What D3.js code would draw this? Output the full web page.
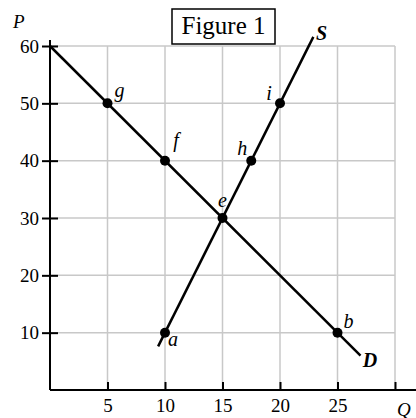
<!DOCTYPE html>
<html>
<head>
<meta charset="utf-8">
<script src="https://cdn.jsdelivr.net/npm/d3@7"></script>
<style>
  body { margin: 0; background: #fff; }
  text { font-family: "Liberation Serif", "Times New Roman", serif; }
</style>
</head>
<body>
<svg id="chart" width="416" height="418"></svg>
<script>
// supply and demand, Figure 1
const xTicks = [5, 10, 15, 20, 25, 30]
const yTicks = [10, 20, 30, 40, 50, 60]
const demandLine = [[0, 60], [27, 6]]
const supplyLine = [[9.4, 7.6], [22.9, 61.6]]
const pointNames = ["g", "f", "e", "i", "h", "a", "b"]
const pointQ = [5, 10, 15, 20, 17.5, 10, 25]
const pointP = [50, 40, 30, 50, 40, 10, 10]
// label offset (px) for each point letter
const labelDx = [12, 11, 0, -11, -9, 8, 11]
const labelDy = [-6, -14, -11, -3, -6, 13, -5]

var svg = d3.select("#chart")
var x = d3.scaleLinear().domain([0, 30]).range([50, 395])
var y = d3.scaleLinear().domain([0, 60]).range([390, 46])

// grid
svg.append("g").selectAll("line")
    .data(xTicks)
    .enter().append("line")
    .attr("x1", d => x(d)).attr("x2", d => x(d))
    .attr("y1", y(0)).attr("y2", y(60))
    .attr("stroke", "#c8c8c8").attr("stroke-width", 1.5)
svg.append("g").selectAll("line")
    .data(yTicks)
    .enter().append("line")
    .attr("x1", x(0)).attr("x2", x(30))
    .attr("y1", d => y(d)).attr("y2", d => y(d))
    .attr("stroke", "#c8c8c8").attr("stroke-width", 1.5)

// axes
var xAxis = d3.axisBottom(x).tickValues(xTicks).tickSize(-8).tickPadding(11)
    .tickFormat(d => d == 30 ? "" : d)
var gx = svg.append("g").attr("transform", "translate(0," + y(0) + ")").call(xAxis)
gx.select(".domain").attr("d", "M" + x(0) + ",0H416")
var yAxis = d3.axisLeft(y).tickValues(yTicks).tickSize(8).tickPadding(3)
var gy = svg.append("g").attr("transform", "translate(" + x(0) + ",0)").call(yAxis)
gy.select(".domain").attr("d", "M0," + y(0) + "V40")
gy.selectAll(".tick line").attr("x2", 8).attr("x1", -8)
svg.selectAll(".domain, .tick line").attr("stroke", "#000").attr("stroke-width", 2)
svg.selectAll(".tick text").attr("font-size", 19).attr("fill", "#000")
    .style("font-family", "'Liberation Serif', serif")
gx.selectAll(".tick text").attr("dy", "0.6em")

// curves
var line = d3.line().x(d => x(d[0])).y(d => y(d[1]))
svg.append("path").attr("d", line(demandLine))
    .attr("stroke", "#000").attr("stroke-width", 2.5).attr("fill", "none")
svg.append("path").attr("d", line(supplyLine))
    .attr("stroke", "#000").attr("stroke-width", 2.5).attr("fill", "none")

// points
svg.append("g").selectAll("circle")
    .data(pointNames)
    .enter().append("circle")
    .attr("cx", (d, i) => x(pointQ[i]))
    .attr("cy", (d, i) => y(pointP[i]))
    .attr("r", 5)
    .attr("fill", "#000")
svg.append("g").selectAll("text")
    .data(pointNames)
    .enter().append("text")
    .attr("x", (d, i) => x(pointQ[i]) + labelDx[i])
    .attr("y", (d, i) => y(pointP[i]) + labelDy[i])
    .attr("font-size", 20)
    .attr("font-style", "italic")
    .attr("text-anchor", "middle")
    .text(d => d)

// curve names
svg.append("text").attr("x", x(27.2)).attr("y", y(4))
    .attr("font-size", 20).attr("font-style", "italic").attr("font-weight", "bold")
    .text("D")
svg.append("text").attr("x", 316).attr("y", 40)
    .attr("font-size", 20).attr("font-style", "italic").attr("font-weight", "bold")
    .text("S")

// axis titles
svg.append("text").attr("x", 13).attr("y", 28)
    .attr("font-size", 19).attr("font-style", "italic").text("P")
svg.append("text").attr("x", 397).attr("y", 416)
    .attr("font-size", 19).attr("font-style", "italic").text("Q")

// title box
var title = svg.append("text").attr("x", x(15) + 1).attr("y", 34)
    .attr("font-size", 25).attr("text-anchor", "middle").text("Figure 1")
svg.insert("rect", () => title.node())
    .attr("x", 172).attr("y", 9)
    .attr("width", 103).attr("height", 35)
    .attr("fill", "#fff").attr("stroke", "#000").attr("stroke-width", 1.5)
</script>
</body>
</html>
